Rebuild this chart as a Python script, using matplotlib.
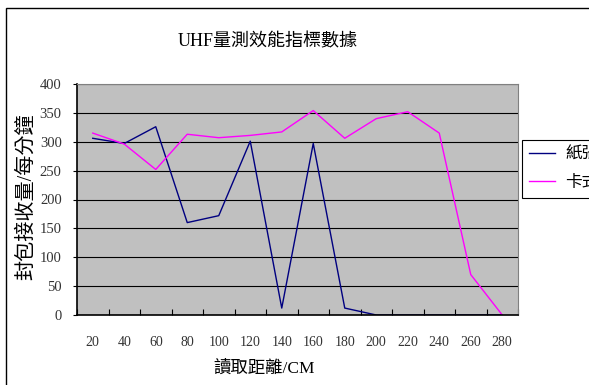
import matplotlib.pyplot as plt
from matplotlib.patches import Rectangle

plt.rcParams['font.family'] = ['Liberation Serif', 'Noto Sans CJK TC']

# Chart data
distances = ['20', '40', '60', '80', '100', '120', '140', '160', '180', '200', '220', '240', '260', '280']
paper = [306, 297, 326, 160, 172, 301, 12, 297, 12, 0, 0, 0, 0, 0]
card = [315, 296, 252, 313, 307, 311, 317, 354, 306, 340, 352, 315, 70, 0]

fig = plt.figure(figsize=(5.89, 3.85), dpi=100)
ax = fig.add_axes([77 / 589, 70 / 385, 441 / 589, 231 / 385])

x = list(range(len(distances)))
ax.plot(x, paper, color='#000080', lw=1, label='紙張')
ax.plot(x, card, color='#FF00FF', lw=1, label='卡式')

ax.set_facecolor('#C0C0C0')
ax.set_xlim(-0.5, len(distances) - 0.5)
ax.set_ylim(0, 400)
ax.set_yticks(range(0, 401, 50))
ax.yaxis.grid(True, color='black', lw=0.8)
ax.set_axisbelow(True)

# category boundaries get the tick marks, centres get the labels
ax.set_xticks([i - 0.5 for i in range(len(distances) + 1)])
ax.set_xticklabels([])
ax.set_xticks(x, minor=True)
ax.set_xticklabels(distances, minor=True)
ax.tick_params(axis='x', which='major', direction='in', length=4, color='black')
ax.tick_params(axis='x', which='minor', length=0, pad=15, labelsize=10, colors='#333333')
ax.tick_params(axis='y', direction='out', length=3, labelsize=10.5, colors='#333333', pad=8)
ax.tick_params(axis='y', color='black')

for side in ['top', 'right']:
    ax.spines[side].set_color('#808080')
for side in ['left', 'bottom']:
    ax.spines[side].set_color('black')
    ax.spines[side].set_linewidth(1.2)

fig.text(268 / 589, 1 - 42 / 385, 'UHF量測效能指標數據', ha='center', va='center', fontsize=13)
fig.text(264 / 589, 1 - 369 / 385, '讀取距離/CM', ha='center', va='center', fontsize=12.5)
fig.text(26 / 589, 1 - 197 / 385, '封包接收量/每分鐘', ha='center', va='center', rotation=90, fontsize=14.5)

leg = ax.legend(loc='upper left', bbox_to_anchor=(522 / 589, 1 - 140 / 385),
                bbox_transform=fig.transFigure, fancybox=False, edgecolor='black',
                framealpha=1, fontsize=12, handlelength=1.6, handletextpad=0.6,
                labelspacing=0.75, borderaxespad=0)
leg.get_frame().set_linewidth(0.8)

# chart area border
fig.patches.append(Rectangle((6 / 589, -0.1), 1.2, 1.1 - 8 / 385, transform=fig.transFigure,
                             fill=False, edgecolor='black', lw=1))

fig.savefig('out.png', dpi=100)
